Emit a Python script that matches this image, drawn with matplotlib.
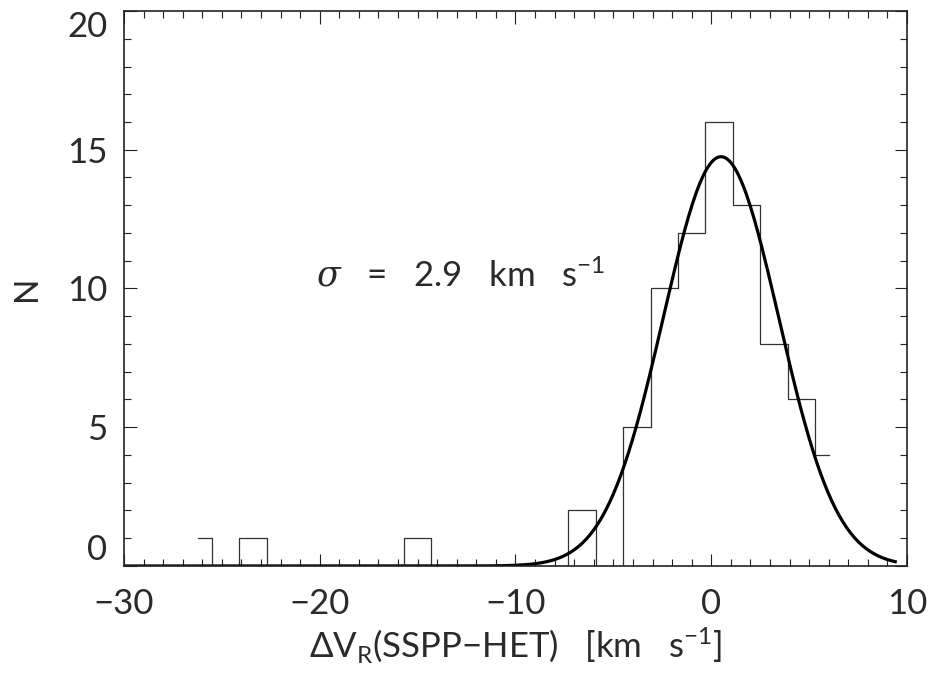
import numpy as np
import matplotlib
matplotlib.use('Agg')
import matplotlib.pyplot as plt
from matplotlib.ticker import MultipleLocator

# histogram: bin centres (km/s) and counts
bin_centers = [-26.2, -24.8, -23.4, -22.0, -20.6, -19.2, -17.8, -16.4,
               -15.0, -13.6, -12.2, -10.8, -9.4, -8.0, -6.6, -5.2,
               -3.8, -2.4, -1.0, 0.4, 1.8, 3.2, 4.6, 6.0]
counts = [1, 0, 1, 0, 0, 0, 0, 0,
          1, 0, 0, 0, 0, 0, 2, 0,
          5, 10, 12, 16, 13, 8, 6, 4]

# gaussian fit parameters
fit_amp = 14.75
fit_mean = 0.5
fit_sigma = 2.95
fit_range = [-30.0, 9.4]

plt.rcParams['font.family'] = ['Lato', 'DejaVu Sans']
plt.rcParams['mathtext.fontset'] = 'custom'
plt.rcParams['mathtext.rm'] = 'Lato'
plt.rcParams['mathtext.it'] = 'DejaVu Serif:italic'

txt = '#2a2a2a'
fig = plt.figure(figsize=(9.33, 6.75), dpi=100)
ax = fig.add_axes([0.1329, 0.1615, 0.8392, 0.8222])

ax.step(bin_centers, counts, where='mid', color='#333333', lw=0.9)

xf = np.linspace(fit_range[0], fit_range[1], 400)
yf = fit_amp * np.exp(-0.5 * ((xf - fit_mean) / fit_sigma) ** 2)
ax.plot(xf, yf, color='black', lw=2.3)

ax.set_xlim(-30, 10)
ax.set_ylim(0, 20)
ax.xaxis.set_major_locator(MultipleLocator(10))
ax.xaxis.set_minor_locator(MultipleLocator(1))
ax.yaxis.set_major_locator(MultipleLocator(5))
ax.yaxis.set_minor_locator(MultipleLocator(1))
ax.tick_params(which='both', direction='in', top=True, right=True,
               width=0.8, color='#222222', labelcolor=txt)
ax.tick_params(which='major', length=9, labelsize=25)
ax.tick_params(axis='x', which='major', pad=16)
ax.tick_params(axis='y', which='major', pad=12)
ax.tick_params(which='minor', length=5)
for s in ax.spines.values():
    s.set_linewidth(1.2)
    s.set_color('#222222')

ax.set_xlabel(r'$\Delta$V$_{\rm R}$(SSPP$-$HET)   [km   s$^{-1}$]',
              fontsize=25, color=txt, labelpad=4)
ax.set_ylabel('N', fontsize=24, color=txt, labelpad=18)

ax.text(-20.2, 10.5, r'$\sigma$   =   2.9   km   s$^{-1}$', fontsize=25,
        color=txt, va='center', ha='left')

# keep the end labels of the y axis inside the frame, as in the original
fig.canvas.draw()
for t in ax.yaxis.get_major_ticks():
    if abs(t.get_loc() - 0) < 1e-6:
        t.label1.set_verticalalignment('bottom')
    elif abs(t.get_loc() - 20) < 1e-6:
        t.label1.set_verticalalignment('top')

fig.savefig('out.png', dpi=100)
